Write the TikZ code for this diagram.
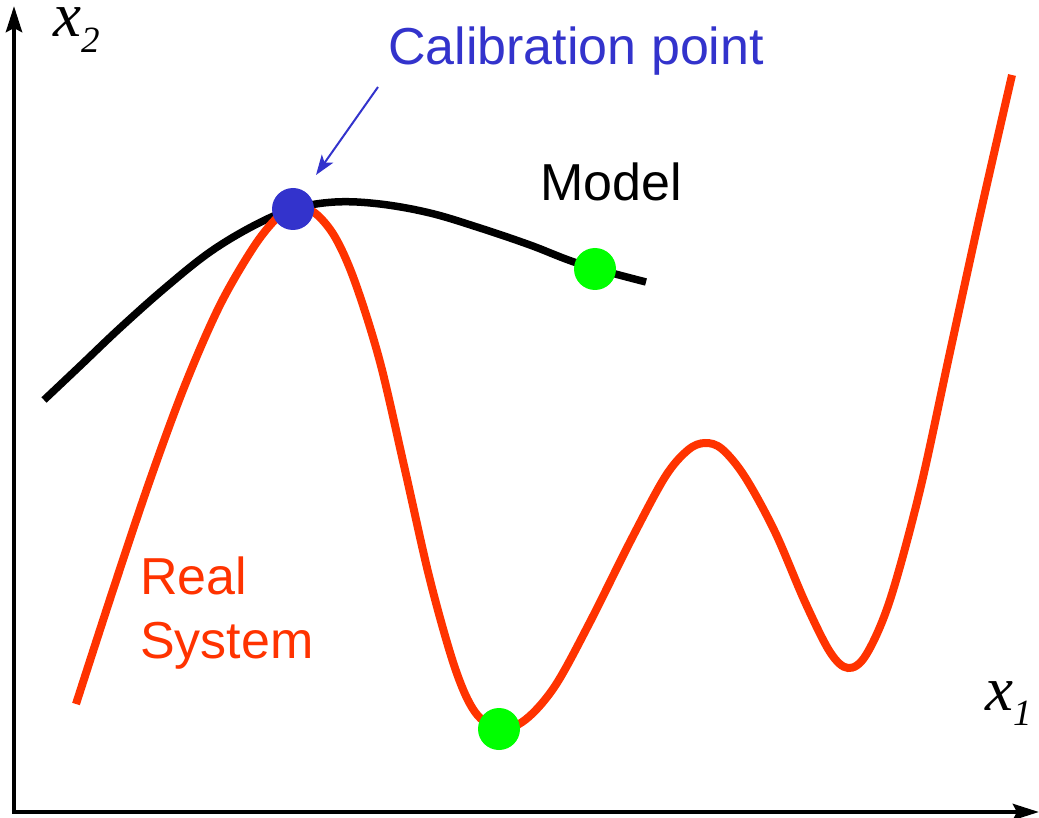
\documentclass[tikz,border=0pt]{standalone}
\usepackage{fontspec}
\setmainfont{Liberation Sans}
\newfontfamily\tmsfont{Liberation Serif}
\usetikzlibrary{arrows.meta,positioning}
\definecolor{calblue}{RGB}{51,51,204}
\definecolor{realred}{RGB}{255,51,0}
\definecolor{dotgreen}{RGB}{0,255,0}
\begin{document}
\begin{tikzpicture}[x=1pt,y=-1pt,
  axis/.style={line width=4.5pt,-{Stealth[length=26pt,width=16pt,inset=4pt]}},
  realcurve/.style={realred,line width=8pt},
  modelcurve/.style={black,line width=7.5pt},
  dot/.style={circle,inner sep=0pt,minimum size=42pt,draw=none},
  axlbl/.style={inner sep=0pt,anchor=base west,text height=30pt,text depth=17pt},
  lbl/.style={inner sep=0pt,anchor=base west,font=\fontsize{52}{64}\selectfont}]
  \useasboundingbox (0,0) rectangle (1039,818);
  % axes
  \coordinate (O) at (14,812);
  \coordinate (ytip) at (14,6);
  \coordinate (xtip) at (1039,812);
  \draw[axis] (O) -- (ytip);
  \draw[axis] ([xshift=-2.25pt]O) -- (xtip);
  \node[axlbl] (xtwo) at (53,37)
    {\tmsfont\itshape\fontsize{63}{63}\selectfont x\raisebox{-16pt}{\fontsize{37}{37}\selectfont 2}};
  \node[axlbl] (xone) at (985,710)
    {\tmsfont\itshape\fontsize{63}{63}\selectfont x\raisebox{-15pt}{\fontsize{37}{37}\selectfont 1}};
  % model and real system
  \draw[modelcurve] plot[smooth,tension=0.6] coordinates {(44,400) (80,366) (120,328) (165,288)
    (210,252) (255,225) (293,209) (335,202) (380,204) (430,213) (480,228) (530,245) (580,264) (646,282)};
  \draw[realcurve] plot[smooth,tension=0.55] coordinates {(76,704) (113,590) (150,480) (185,385)
    (220,305) (255,245) (280,215) (297,207) (315,213) (335,237) (355,282) (380,362) (405,470)
    (430,580) (455,668) (475,712) (499,729) (525,720) (555,686) (590,622) (630,542) (665,477)
    (688,450) (705,443) (722,449) (745,477) (775,532) (805,602) (830,652) (848,668) (866,655)
    (890,600) (920,490) (950,352) (980,215) (1012,75)};
  % points
  \node[dot,fill=calblue] (cal) at (293,209) {};
  \node[dot,fill=dotgreen] (gmodel) at (595,269) {};
  \node[dot,fill=dotgreen] (greal) at (499,729) {};
  % labels
  \node[lbl,text=calblue] (callbl) at (388,65) {Calibration point};
  \node[lbl] (modellbl) at (540,201) {Model};
  \node[lbl,text=realred,align=left] (reallbl) at (140,658) {Real\\System};
  \coordinate (calstart) at (378,87);
  \coordinate (caltip) at (316,175);
  \draw[calblue,line width=2pt,-{Stealth[length=20pt,width=14pt,inset=5pt]}] (calstart) -- (caltip);
\end{tikzpicture}
\end{document}
